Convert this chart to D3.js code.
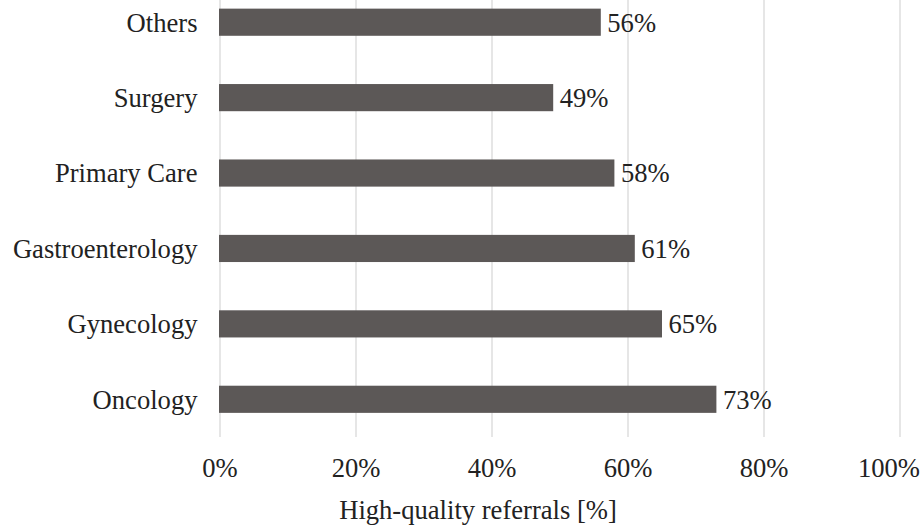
<!DOCTYPE html>
<html><head><meta charset="utf-8">
<script src="https://cdn.jsdelivr.net/npm/d3@7"></script>
<style>body{margin:0;background:#fff}svg{display:block}
svg text{font-family:"Liberation Serif","Tinos","Times New Roman","DejaVu Serif",serif;font-size:26.6px;fill:#222}</style>
</head><body>
<svg id="c" width="922" height="526"></svg>
<script>
const categories = ["Others","Surgery","Primary Care","Gastroenterology","Gynecology","Oncology"];
const values = [56,49,58,61,65,73];
const ticks = [0,20,40,60,80,100];
const axisTitle = "High-quality referrals [%]";

const svg = d3.select("#c");
const x = d3.scaleLinear().domain([0,100]).range([220,900]);
const y = d3.scaleBand().domain(categories).range([-15.5,437]).paddingInner(0.64).paddingOuter(0.32);

svg.append("g").selectAll("line").data(ticks).join("line")
  .attr("x1",d=>x(d)).attr("x2",d=>x(d)).attr("y1",0).attr("y2",437)
  .attr("stroke","#d9d9d9").attr("stroke-width",1.3);

svg.append("g").selectAll("rect").data(values).join("rect")
  .attr("x",x(0)-1).attr("y",(d,i)=>y(categories[i]))
  .attr("width",d=>x(d)-x(0)+1).attr("height",y.bandwidth())
  .attr("fill","#5c5857");

svg.append("g").selectAll("text").data(values).join("text")
  .attr("x",d=>x(d)+6.5).attr("y",(d,i)=>y(categories[i])+y.bandwidth()/2)
  .attr("dy","0.35em")
  .text(d=>d+"%");

svg.append("g").selectAll("text").data(categories).join("text")
  .attr("x",197.5).attr("y",d=>y(d)+y.bandwidth()/2).attr("dy","0.35em")
  .attr("text-anchor","end")
  .text(d=>d);

const last = ticks[ticks.length-1];
svg.append("g").selectAll("text").data(ticks).join("text")
  .attr("x",d=>d===last?920:x(d)).attr("y",477).attr("text-anchor",d=>d===last?"end":"middle")
  .text(d=>d+"%");

svg.append("text").attr("x",478).attr("y",519).attr("text-anchor","middle").text(axisTitle);
</script>
</body></html>
